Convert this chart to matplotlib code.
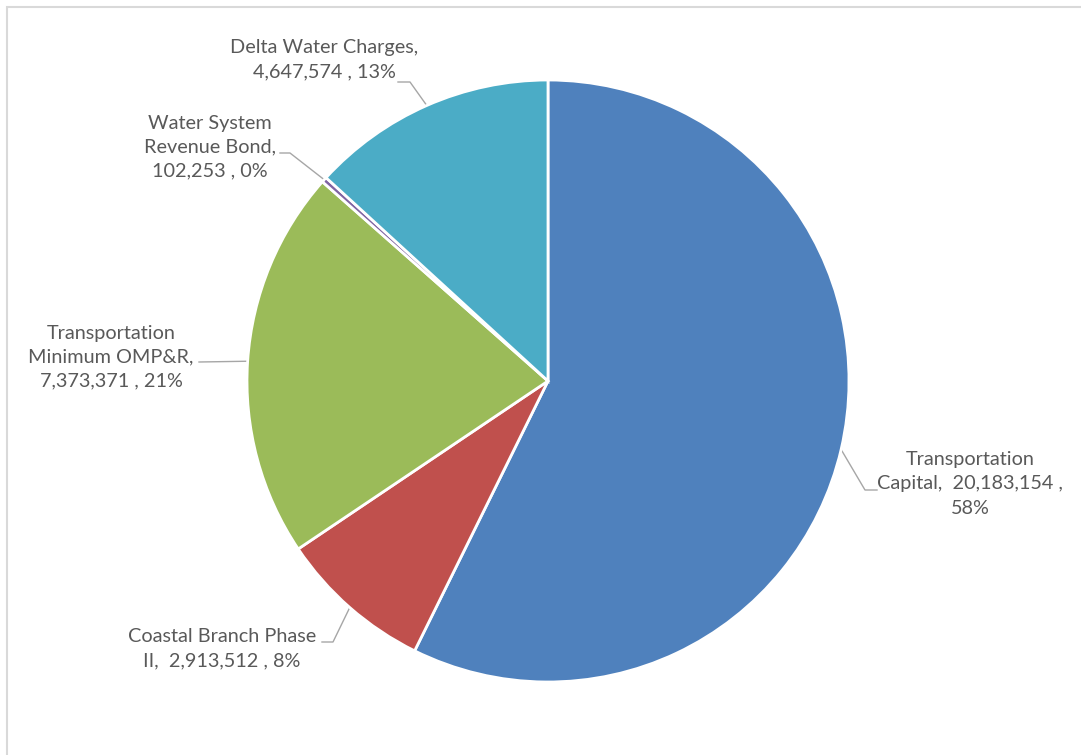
import numpy as np
import matplotlib
matplotlib.use("Agg")
import matplotlib.pyplot as plt
from matplotlib.patches import Rectangle

labels = ["Transportation Capital", "Coastal Branch Phase II",
          "Transportation Minimum OMP&R", "Water System Revenue Bond",
          "Delta Water Charges"]
values = [20183154, 2913512, 7373371, 102253, 4647574]
label_texts = [
    "Transportation\nCapital,  20,183,154 ,\n58%",
    "Coastal Branch Phase\nII,  2,913,512 , 8%",
    "Transportation\nMinimum OMP&R,\n7,373,371 , 21%",
    "Water System\nRevenue Bond,\n102,253 , 0%",
    "Delta Water Charges,\n4,647,574 , 13%",
]
colors = ["#4F81BD", "#C0504D", "#9BBB59", "#8064A2", "#4BACC6"]

W, H = 1081, 755
fig = plt.figure(figsize=(W / 100, H / 100), dpi=100)
fig.patch.set_facecolor("white")

# border (left & top visible)
fig.patches.append(Rectangle((6.5 / W, -0.1), 1.2, 1 - 6.5 / H + 0.1,
                             transform=fig.transFigure, fill=False,
                             edgecolor="#D9D9D9", linewidth=1.5))

cx, cy, R = 548, 381, 301
ax = fig.add_axes([(cx - R) / W, (H - cy - R) / H, 2 * R / W, 2 * R / H])
ax.axis("off")

wedges, _ = ax.pie(values, colors=colors, startangle=90, counterclock=False,
                   radius=1, center=(0, 0),
                   wedgeprops=dict(edgecolor="white", linewidth=2))
ax.set_xlim(-1, 1)
ax.set_ylim(-1, 1)
ax.set_aspect("auto")

def p2d(px, py):
    return ((px - cx) / R, (cy - py) / R)

# layout: text center (px), elbow points (px) from text toward wedge
layout = [
    dict(text=(970, 484), pts=[(877, 490), (865, 490)]),
    dict(text=(222, 649), pts=[(322, 642), (333, 642)]),
    dict(text=(111, 357), pts=[(199, 362)]),
    dict(text=(210, 147), pts=[(280, 153), (290, 153)]),
    dict(text=(324, 60), pts=[(398, 82), (410, 82)]),
]

for w, txt, lay in zip(wedges, label_texts, layout):
    th = np.deg2rad((w.theta1 + w.theta2) / 2)
    anchor = (np.cos(th) * w.r, np.sin(th) * w.r)
    pts = [p2d(*p) for p in lay["pts"]] + [anchor]
    xs, ys = zip(*pts)
    ax.plot(xs, ys, color="#A6A6A6", linewidth=1, clip_on=False, zorder=0.5)
    tx, ty = p2d(*lay["text"])
    ax.text(tx, ty, txt, ha="center", va="center", multialignment="center",
            fontsize=14.3, family=["Lato", "DejaVu Sans"], color="#595959",
            linespacing=1.5, clip_on=False)

fig.savefig("out.png", dpi=100, facecolor="white")
